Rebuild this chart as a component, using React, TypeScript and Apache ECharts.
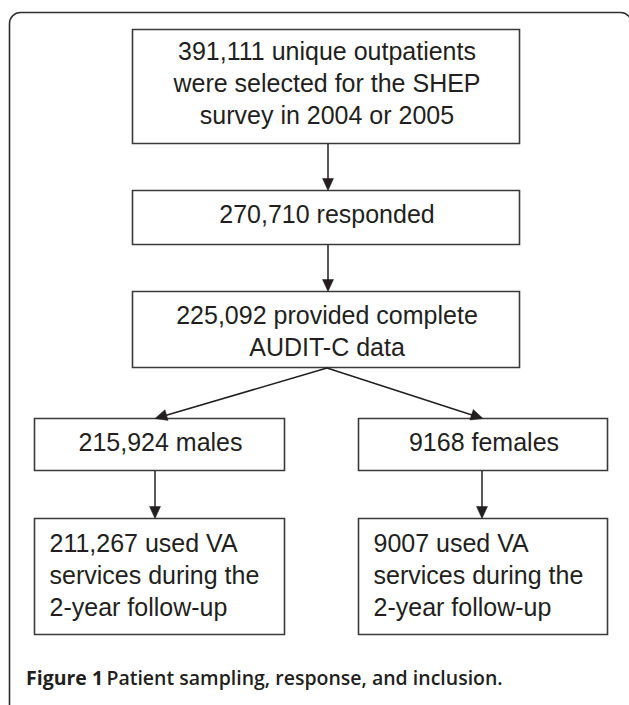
import React, { useEffect, useRef } from "react";
import * as echarts from "echarts";

// ---- Content (texts of the flowchart) ----
const selectedLines = ["391,111 unique outpatients", "were selected for the SHEP", "survey in 2004 or 2005"];
const respondedLines = ["270,710 responded"];
const completeLines = ["225,092 provided complete", "AUDIT-C data"];
const malesLines = ["215,924 males"];
const femalesLines = ["9168 females"];
const malesFollowLines = ["211,267 used VA", "services during the", "2-year follow-up"];
const femalesFollowLines = ["9007 used VA", "services during the", "2-year follow-up"];
const captionBold = "Figure 1";
const captionRest = "Patient sampling, response, and inclusion.";

// ---- Layout ----
const W = 629;
const H = 705;
const INK = "#231f20";
const BORDER = "#3a3a3a";
const FONT = "'Liberation Sans', Arial, Helvetica, sans-serif";
const FS = 25;
const LH = 32;

type Box = { x: number; y: number; w: number; h: number; lines: string[]; align: "center" | "left"; textX?: number; firstY: number };

const boxes: Box[] = [
  { x: 132.5, y: 29.5, w: 387, h: 114, lines: selectedLines, align: "center", firstY: 51 },
  { x: 132.5, y: 190.5, w: 387, h: 54, lines: respondedLines, align: "center", firstY: 214 },
  { x: 132.5, y: 291.5, w: 387, h: 76, lines: completeLines, align: "center", firstY: 314.5 },
  { x: 34.5, y: 418.5, w: 250, h: 52, lines: malesLines, align: "center", firstY: 442 },
  { x: 358.5, y: 418.5, w: 249, h: 52, lines: femalesLines, align: "center", firstY: 442 },
  { x: 34.5, y: 518.5, w: 250, h: 116, lines: malesFollowLines, align: "left", textX: 49.5, firstY: 543 },
  { x: 358.5, y: 518.5, w: 249, h: 116, lines: femalesFollowLines, align: "left", textX: 373.5, firstY: 543 },
];

const arrows: [number, number, number, number][] = [
  [328, 143.5, 328, 190.5],
  [328, 245, 328, 291.5],
  [327, 368, 155, 418.5],
  [327, 368, 483, 418.5],
  [155, 471, 155, 518.5],
  [482, 471, 482, 518.5],
];

function arrowEls(x1: number, y1: number, x2: number, y2: number) {
  const L = 12;
  const HW = 5.5;
  const dx = x2 - x1;
  const dy = y2 - y1;
  const len = Math.hypot(dx, dy);
  const ux = dx / len;
  const uy = dy / len;
  const bx = x2 - ux * L;
  const by = y2 - uy * L;
  const px = -uy;
  const py = ux;
  return [
    {
      type: "line",
      shape: { x1, y1, x2: bx + ux * 2, y2: by + uy * 2 },
      style: { stroke: INK, lineWidth: 1.5 },
    },
    {
      type: "polygon",
      shape: { points: [[x2, y2], [bx + px * HW, by + py * HW], [bx - px * HW, by - py * HW]] },
      style: { fill: INK, stroke: INK, lineWidth: 0.5 },
    },
  ];
}

export default function App() {
  const ref = useRef<HTMLDivElement>(null);
  useEffect(() => {
    if (!ref.current) return;
    const chart = echarts.init(ref.current, undefined, { renderer: "svg", width: W, height: H });
    const elements: any[] = [];
    // outer frame (rounded top corners, open at right/bottom edges of the picture)
    elements.push({
      type: "rect",
      shape: { x: 9.5, y: 12.5, width: 622, height: 760, r: [11, 11, 0, 0] },
      style: { fill: "#fff", stroke: "#2e2e2e", lineWidth: 1.6 },
    });
    boxes.forEach((b) => {
      elements.push({
        type: "rect",
        shape: { x: b.x, y: b.y, width: b.w, height: b.h },
        style: { fill: "#fff", stroke: BORDER, lineWidth: 1.6 },
      });
      b.lines.forEach((t, i) => {
        elements.push({
          type: "text",
          x: b.align === "center" ? b.x + b.w / 2 + 1 : (b.textX as number),
          y: b.firstY + i * LH,
          style: {
            text: t,
            fill: INK,
            fontFamily: FONT,
            fontSize: FS,
            align: b.align,
            verticalAlign: "middle",
          },
        });
      });
    });
    arrows.forEach((a) => elements.push(...arrowEls(a[0], a[1], a[2], a[3])));
    elements.push({
      type: "text",
      x: 26,
      y: 677,
      style: {
        text: `{b|${captionBold}} {r|${captionRest}}`,
        verticalAlign: "middle",
        align: "left",
        rich: {
          b: { fontFamily: "Open Sans", fontWeight: 700, fontSize: 19.5, fill: INK },
          r: { fontFamily: "Open Sans", fontWeight: 600, fontSize: 19.5, fill: INK },
        },
      },
    });
    chart.setOption({
      animation: false,
      backgroundColor: "#ffffff",
      graphic: { elements },
    });
    return () => chart.dispose();
  }, []);
  return (
    <div
      ref={ref}
      style={{ position: "fixed", left: 0, top: 0, width: W, height: H, background: "#fff" }}
    />
  );
}
